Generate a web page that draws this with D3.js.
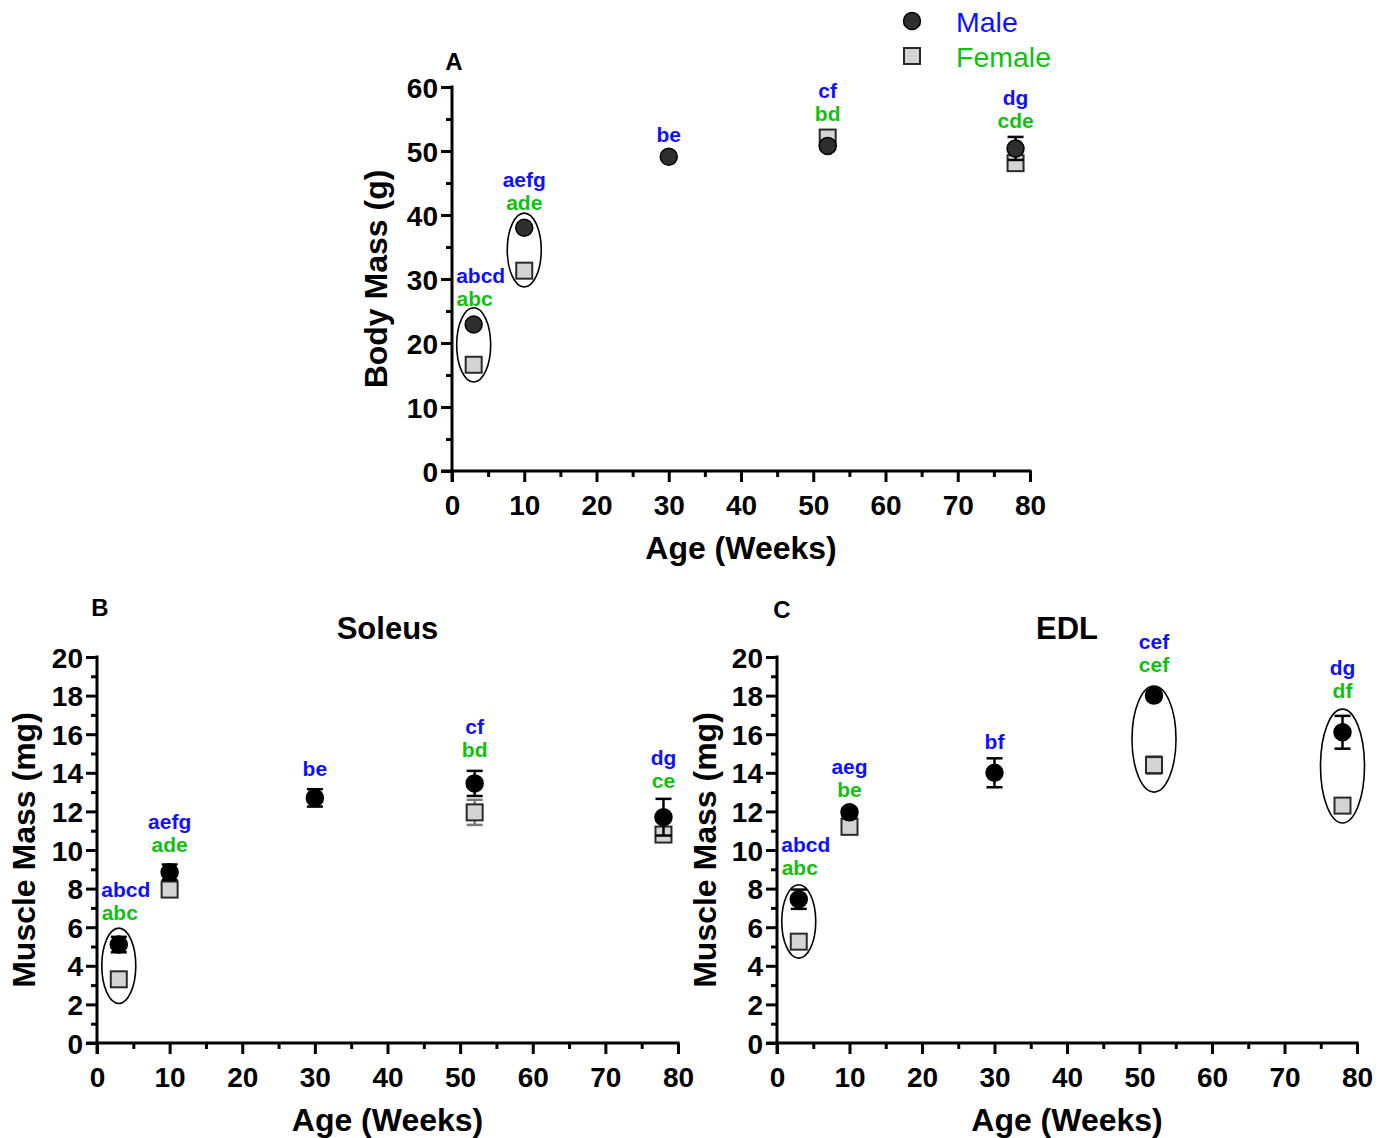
<!DOCTYPE html>
<html><head><meta charset="utf-8">
<script src="https://cdn.jsdelivr.net/npm/d3@7"></script>
<style>
body{margin:0;background:#fff;}
text{font-family:Arial,"Liberation Sans",sans-serif;}
</style></head>
<body>
<svg id="chart" width="1391" height="1138"></svg>
<script>
// ---------- DATA ----------
const weeks = [3, 10, 30, 52, 78];
const xTicks = [0, 10, 20, 30, 40, 50, 60, 70, 80];

// Panel A: Body mass (g)
const bodyMale = [22.9, 38.0, 49.1, 50.8, 50.4];
const bodyMaleErr = [0.3, 0.3, 0.3, 0.3, 1.8];
const bodyFemale = [16.6, 31.3, null, 52.1, 48.1];
const bodyFemaleErr = [0.3, 0.3, null, 0.6, 0.6];
const bodyMaleLabels = ["abcd", "aefg", "be", "cf", "dg"];
const bodyFemaleLabels = ["abc", "ade", "", "bd", "cde"];
const bodyLabelY = [30.5, 45.5, 52.5, 59.5, 58.3];
const bodyEllipses = [[3, 13.9, 25.5], [10, 28.75, 40.3]];
const bodyYTicks = [0, 10, 20, 30, 40, 50, 60];

// Panel B: Soleus (mg)
const soleusMale = [5.1, 8.85, 12.7, 13.45, 11.7];
const soleusMaleErr = [0.4, 0.4, 0.45, 0.65, 0.95];
const soleusFemale = [3.3, 7.95, null, 11.95, 10.8];
const soleusFemaleErr = [0.2, 0.35, null, 0.65, 0.15];
const soleusMaleLabels = ["abcd", "aefg", "be", "cf", "dg"];
const soleusFemaleLabels = ["abc", "ade", "", "bd", "ce"];
const soleusLabelY = [7.93, 11.45, 14.2, 16.4, 14.8];
const soleusEllipses = [[3, 2.05, 5.95]];

// Panel C: EDL (mg)
const edlMale = [7.45, 11.95, 14.0, 18.0, 16.1];
const edlMaleErr = [0.5, 0.2, 0.75, 0.2, 0.85];
const edlFemale = [5.25, 11.2, null, 14.4, 12.3];
const edlFemaleErr = [0.2, 0.3, null, 0.45, 0.3];
const edlMaleLabels = ["abcd", "aeg", "bf", "cef", "dg"];
const edlFemaleLabels = ["abc", "be", "", "cef", "df"];
const edlLabelY = [10.26, 14.3, 15.6, 20.78, 19.43];
const edlEllipses = [[3, 4.4, 8.2], [52, 13.0, 18.5], [78, 11.4, 17.3]];
const muscleYTicks = [0, 2, 4, 6, 8, 10, 12, 14, 16, 18, 20];

const legendNames = ["Male", "Female"];

// ---------- DRAW ----------
const svg = d3.select("#chart");
const BLUE = "#1010ff", GREEN = "#11c011";

function panel(o) {
  const g = svg.append("g");
  const x = d3.scaleLinear().domain([0, 80]).range([o.x0, o.x1]);
  const y = d3.scaleLinear().domain([0, o.ymax]).range([o.y0, o.y1]);

  // axes
  const xAxis = d3.axisBottom(x).tickValues(d3.range(0, 81, 5)).tickSize(0).tickFormat("");
  const gx = g.append("g").attr("transform", `translate(0,${o.y0})`).call(xAxis);
  gx.select(".domain").remove();
  gx.append("line").attr("x1", o.x0 - 11).attr("x2", o.x1 + 1.5).attr("y1", 0).attr("y2", 0)
    .attr("stroke", "#000").attr("stroke-width", 3);
  gx.selectAll(".tick line").attr("stroke", "#000").attr("stroke-width", 3)
    .attr("y2", d => (d % 10 === 0 ? 11 : 6));
  gx.selectAll(".tick").filter(d => xTicks.includes(d)).append("text")
    .attr("y", 44).attr("text-anchor", "middle").attr("fill", "#000")
    .attr("font-size", 28).attr("font-weight", "bold").text(d => d);

  const yAxis = d3.axisLeft(y).tickValues(o.minorTicks).tickSize(0).tickFormat("");
  const gy = g.append("g").attr("transform", `translate(${o.x0},0)`).call(yAxis);
  gy.select(".domain").remove();
  gy.append("line").attr("x1", 0).attr("x2", 0).attr("y1", o.y1 - 1.5).attr("y2", o.y0 + 11)
    .attr("stroke", "#000").attr("stroke-width", 3);
  gy.selectAll(".tick line").attr("stroke", "#000").attr("stroke-width", 3)
    .attr("x2", d => (o.yTicks.includes(d) ? -11 : -6));
  gy.selectAll(".tick").filter(d => o.yTicks.includes(d)).append("text")
    .attr("x", -14).attr("dy", "0.36em").attr("text-anchor", "end").attr("fill", "#000")
    .attr("font-size", 28).attr("font-weight", "bold").text(d => d);

  // axis titles
  g.append("text").attr("x", (o.x0 + o.x1) / 2).attr("y", o.y0 + 88).attr("text-anchor", "middle")
    .attr("font-size", 32).attr("font-weight", "bold").text("Age (Weeks)");
  g.append("text").attr("transform", `translate(${o.ylabX},${(o.y0 + o.y1) / 2}) rotate(-90)`)
    .attr("text-anchor", "middle").attr("dy", "0.35em")
    .attr("font-size", 32).attr("font-weight", "bold").text(o.ylabel);
  if (o.title) {
    g.append("text").attr("x", (o.x0 + o.x1) / 2).attr("y", o.y1 - 18).attr("text-anchor", "middle")
      .attr("font-size", 31).attr("font-weight", "bold").text(o.title);
  }
  g.append("text").attr("x", o.letterX).attr("y", o.letterY).attr("text-anchor", "middle")
    .attr("font-size", 24).attr("font-weight", "bold").text(o.letter);

  // ellipses
  g.selectAll("ellipse.grp").data(o.ellipses).join("ellipse")
    .attr("cx", d => x(d[0])).attr("cy", d => (y(d[1]) + y(d[2])) / 2)
    .attr("rx", d => (d[2] - d[1]) / o.ymax > 0.25 ? 22 : 17)
    .attr("ry", d => (y(d[1]) - y(d[2])) / 2)
    .attr("fill", "none").attr("stroke", "#000").attr("stroke-width", 1.6);

  const fem = weeks.map((w, i) => ({ w, v: o.female[i], e: o.femaleErr[i] })).filter(d => d.v != null);
  const mal = weeks.map((w, i) => ({ w, v: o.male[i], e: o.maleErr[i] }));

  function errBars(data, color) {
    const eg = g.append("g").attr("stroke", color).attr("stroke-width", 2.5);
    data.forEach(d => {
      eg.append("line").attr("x1", x(d.w)).attr("x2", x(d.w)).attr("y1", y(d.v - d.e)).attr("y2", y(d.v + d.e));
      [d.v - d.e, d.v + d.e].forEach(v => {
        eg.append("line").attr("x1", x(d.w) - 8).attr("x2", x(d.w) + 8).attr("y1", y(v)).attr("y2", y(v));
      });
    });
  }
  errBars(fem, "#7a7a7a");
  g.selectAll("rect.f").data(fem).join("rect")
    .attr("x", d => x(d.w) - 8).attr("y", d => y(d.v) - 8).attr("width", 16).attr("height", 16)
    .attr("fill", "#d4d4d4").attr("stroke", "#2a2a2a").attr("stroke-width", 2);
  errBars(mal, "#000");
  g.selectAll("circle.m").data(mal).join("circle")
    .attr("cx", d => x(d.w)).attr("cy", d => y(d.v)).attr("r", 8.5)
    .attr("fill", o.maleFill).attr("stroke", "#000").attr("stroke-width", 1.5);

  // significance letters
  const labs = weeks.map((w, i) => ({ w, m: o.maleLabels[i], f: o.femaleLabels[i], ly: o.labelY[i], i }));
  g.selectAll("text.ml").data(labs).join("text")
    .attr("x", d => x(d.w) + (d.i === 0 ? 7 : 0)).attr("y", d => y(d.ly)).attr("dy", "0.35em")
    .attr("text-anchor", "middle").attr("fill", BLUE).attr("font-size", 21).attr("font-weight", "bold")
    .text(d => d.m);
  g.selectAll("text.fl").data(labs).join("text")
    .attr("x", d => x(d.w) + (d.i === 0 ? 1 : 0)).attr("y", d => y(d.ly) + 23).attr("dy", "0.35em")
    .attr("text-anchor", "middle").attr("fill", GREEN).attr("font-size", 21).attr("font-weight", "bold")
    .text(d => d.f);
}

panel({
  x0: 452, x1: 1030, y0: 471, y1: 87, ymax: 60,
  yTicks: bodyYTicks, minorTicks: d3.range(0, 61, 5),
  male: bodyMale, maleErr: bodyMaleErr, female: bodyFemale, femaleErr: bodyFemaleErr,
  maleLabels: bodyMaleLabels, femaleLabels: bodyFemaleLabels, labelY: bodyLabelY,
  ellipses: bodyEllipses, ylabel: "Body Mass (g)", ylabX: 376, title: null,
  letter: "A", letterX: 454, letterY: 70, maleFill: "#2e2e2e"
});
panel({
  x0: 97, x1: 678, y0: 1043, y1: 657, ymax: 20,
  yTicks: muscleYTicks, minorTicks: d3.range(0, 21, 1),
  male: soleusMale, maleErr: soleusMaleErr, female: soleusFemale, femaleErr: soleusFemaleErr,
  maleLabels: soleusMaleLabels, femaleLabels: soleusFemaleLabels, labelY: soleusLabelY,
  ellipses: soleusEllipses, ylabel: "Muscle Mass (mg)", ylabX: 24, title: "Soleus",
  letter: "B", letterX: 100, letterY: 616, maleFill: "#000"
});
panel({
  x0: 777, x1: 1357, y0: 1043, y1: 657, ymax: 20,
  yTicks: muscleYTicks, minorTicks: d3.range(0, 21, 1),
  male: edlMale, maleErr: edlMaleErr, female: edlFemale, femaleErr: edlFemaleErr,
  maleLabels: edlMaleLabels, femaleLabels: edlFemaleLabels, labelY: edlLabelY,
  ellipses: edlEllipses, ylabel: "Muscle Mass (mg)", ylabX: 705, title: "EDL",
  letter: "C", letterX: 782, letterY: 618, maleFill: "#000"
});

// legend
const lg = svg.append("g");
lg.append("circle").attr("cx", 912).attr("cy", 21).attr("r", 8.5).attr("fill", "#2e2e2e").attr("stroke", "#000").attr("stroke-width", 1.5);
lg.append("rect").attr("x", 904).attr("y", 48).attr("width", 16).attr("height", 16).attr("fill", "#d4d4d4").attr("stroke", "#2a2a2a").attr("stroke-width", 2);
lg.selectAll("text.leg").data(legendNames).join("text")
  .attr("x", 956).attr("y", (d, i) => 22 + i * 35).attr("dy", "0.35em")
  .attr("font-size", 28.5).attr("fill", (d, i) => (i === 0 ? BLUE : GREEN)).text(d => d);
</script>
</body></html>
